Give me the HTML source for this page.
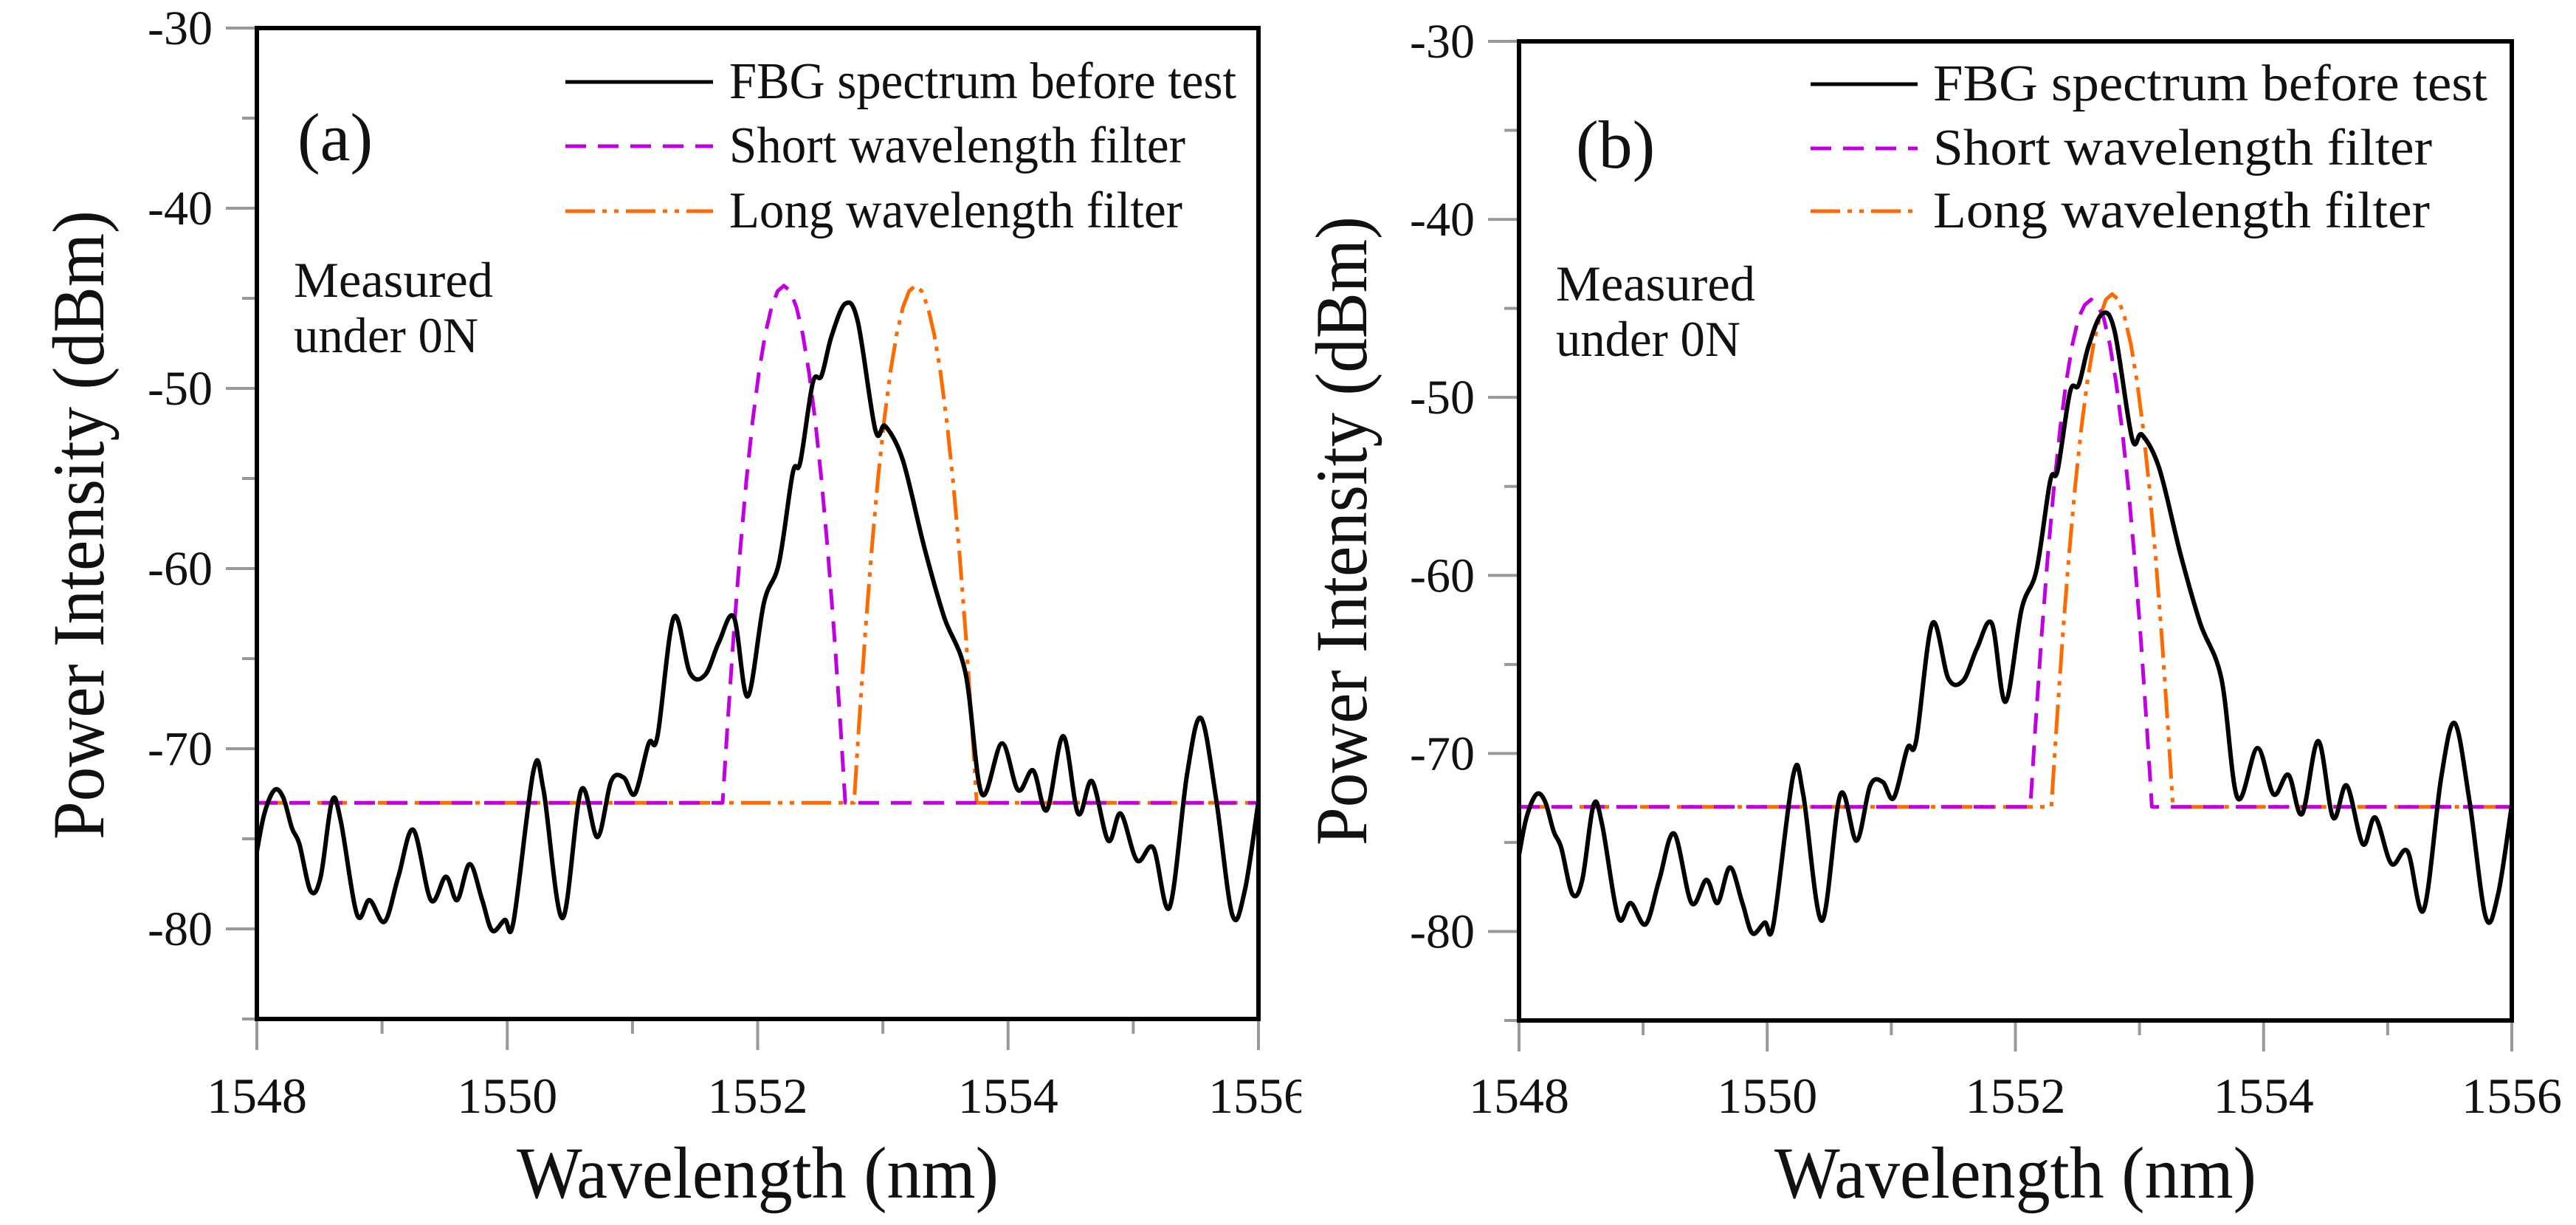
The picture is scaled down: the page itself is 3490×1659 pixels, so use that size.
<!DOCTYPE html>
<html><head><meta charset="utf-8"><style>
html,body{margin:0;padding:0;background:#fff;}
svg{display:block;}
text{font-family:"Liberation Serif","Times New Roman","DejaVu Serif",serif;fill:#111;}
</style></head><body>
<svg id="fig" width="3490" height="1659" viewBox="0 0 3490 1659" xmlns="http://www.w3.org/2000/svg" font-family="Liberation Serif, serif">
<rect x="0" y="0" width="3490" height="1659" fill="#fff"/>
<g id="pa"></g>
<rect x="1763" y="0" width="1727" height="1659" fill="#fff"/>
<g id="pb"></g>
</svg>
<script>
// FBG spectrum (same in both panels)
const fbgWl = [1548,1548.06,1548.14,1548.21,1548.28,1548.34,1548.43,1548.51,1548.6,1548.67,1548.8,1548.9,1549.02,1549.13,1549.25,1549.39,1549.51,1549.6,1549.7,1549.8,1549.88,1549.98,1550.05,1550.21,1550.29,1550.44,1550.59,1550.72,1550.83,1550.93,1551.02,1551.13,1551.2,1551.33,1551.46,1551.58,1551.69,1551.81,1551.92,1552.05,1552.17,1552.28,1552.34,1552.44,1552.51,1552.59,1552.7,1552.8,1552.94,1553.02,1553.16,1553.33,1553.49,1553.66,1553.79,1553.95,1554.08,1554.2,1554.31,1554.44,1554.56,1554.67,1554.8,1554.9,1555.03,1555.16,1555.29,1555.43,1555.54,1555.66,1555.79,1555.89,1556];
const fbgDb = [-75.7,-73.6,-72.3,-72.7,-74.4,-75.3,-77.9,-77.1,-72.9,-74,-79.2,-78.4,-79.6,-77.1,-74.5,-78.4,-77.1,-78.4,-76.4,-78.4,-80.1,-79.5,-79.6,-71.2,-72.3,-79.4,-72.3,-74.9,-71.8,-71.6,-72.5,-69.7,-69.3,-62.7,-65.8,-65.9,-64.1,-62.7,-67.1,-61.9,-59.7,-54.7,-54.1,-49.7,-49.3,-47.1,-45.3,-46.3,-52.3,-52.1,-54.0,-58.8,-62.7,-65.8,-72.5,-69.7,-72.3,-71.2,-73.4,-69.3,-73.6,-71.8,-75.1,-73.6,-76.2,-75.5,-78.8,-71.4,-68.3,-72.7,-79.2,-77.9,-72.9];
// filter profiles
const filterBaseline = -73;
const shortADb = [-73,-71.9,-68.6,-63.5,-59,-55.1,-51.8,-49.1,-47,-45.5,-44.6,-44.3,-44.6,-45.5,-47,-49.1,-51.8,-55.1,-59,-63.5,-68.6,-71.9,-73];
const shortAWl = [1551.72,1551.73,1551.76,1551.81,1551.86,1551.91,1551.96,1552.01,1552.06,1552.11,1552.16,1552.21,1552.26,1552.31,1552.36,1552.41,1552.46,1552.51,1552.56,1552.61,1552.66,1552.69,1552.70];
const longADb = [-73,-71.9,-68.6,-63.5,-59,-55.1,-51.8,-49.1,-47,-45.5,-44.6,-44.3,-44.6,-45.5,-47,-49.1,-51.8,-55.1,-59,-63.5,-68.6,-71.9,-73];
const longAWl = [1552.77,1552.78,1552.81,1552.86,1552.91,1552.96,1553.01,1553.06,1553.11,1553.16,1553.21,1553.26,1553.31,1553.36,1553.41,1553.46,1553.51,1553.56,1553.61,1553.66,1553.71,1553.74,1553.75];
const shortBDb = [-73,-71.9,-68.6,-63.5,-59,-55.1,-51.8,-49.1,-47,-45.5,-44.8,-44.5,-44.8,-45.5,-47,-49.1,-51.8,-55.1,-59,-63.5,-68.6,-71.9,-73];
const shortBWl = [1552.12,1552.13,1552.16,1552.21,1552.26,1552.31,1552.36,1552.41,1552.46,1552.51,1552.56,1552.61,1552.66,1552.71,1552.76,1552.81,1552.86,1552.91,1552.96,1553.01,1553.06,1553.09,1553.10];
const longBDb = [-73,-71.9,-68.6,-63.5,-59,-55.1,-51.8,-49.1,-47,-45.5,-44.5,-44.2,-44.5,-45.5,-47,-49.1,-51.8,-55.1,-59,-63.5,-68.6,-71.9,-73];
const longBWl = [1552.29,1552.30,1552.33,1552.38,1552.43,1552.48,1552.53,1552.58,1552.63,1552.68,1552.73,1552.78,1552.83,1552.88,1552.93,1552.98,1553.03,1553.08,1553.13,1553.18,1553.23,1553.26,1553.27];
const xTicks = [1548,1550,1552,1554,1556];
const yTicks = [-30,-40,-50,-60,-70,-80];
const legendLabels = ["FBG spectrum before test","Short wavelength filter","Long wavelength filter"];

const NS="http://www.w3.org/2000/svg";
const FONT='"Liberation Serif", "Times New Roman", serif';
function mk(parent,tag,attrs){const e=document.createElementNS(NS,tag);for(const k in attrs)e.setAttribute(k,attrs[k]);if(tag==='text')e.setAttribute('font-family',FONT);parent.appendChild(e);return e;}
function smoothPath(p){
  let d='M'+p[0][0].toFixed(1)+','+p[0][1].toFixed(1);
  for(let i=0;i<p.length-1;i++){
    const p0=p[i-1]||p[i],p1=p[i],p2=p[i+1],p3=p[i+2]||p2;
    const c1x=p1[0]+(p2[0]-p0[0])/6,c1y=p1[1]+(p2[1]-p0[1])/6;
    const c2x=p2[0]-(p3[0]-p1[0])/6,c2y=p2[1]-(p3[1]-p1[1])/6;
    d+=` C${c1x.toFixed(1)},${c1y.toFixed(1)} ${c2x.toFixed(1)},${c2y.toFixed(1)} ${p2[0].toFixed(1)},${p2[1].toFixed(1)}`;
  }
  return d;
}

function drawPanel(g,P,swl,sdb,lwl,ldb,tag){
  const sx=v=>P.L+(v-1548)/8*(P.R-P.L);
  const sy=v=>P.T+(-30-v)/55*(P.B-P.T);
  for(let v=-30;v>=-85;v-=5){
    const major=v%10===0;
    const t=mk(g,'line',{x1:P.L-(major?42:20),x2:P.L,y1:sy(v),y2:sy(v),stroke:'#999','stroke-width':4});
    
    
  }
  yTicks.forEach(v=>{
    const t=mk(g,'text',{x:P.L-60,y:sy(v)+22,'text-anchor':'end','font-size':66});
    t.textContent=String(v);
    
    
  });
  for(let v=1548;v<=1556;v+=1){
    const major=v%2===0;
    const t=mk(g,'line',{x1:sx(v),x2:sx(v),y1:P.B,y2:P.B+(major?42:20),stroke:'#999','stroke-width':4});
    
    
  }
  xTicks.forEach(v=>{
    const t=mk(g,'text',{x:sx(v),y:1507,'text-anchor':'middle','font-size':68});
    t.textContent=String(v);
    
    
  });
  const pts=(wl,db)=>wl.map((w,i)=>sx(w).toFixed(1)+','+sy(db[i]).toFixed(1)).join(' ');
  const lw=[1548].concat(lwl,[1556]), ld=[filterBaseline].concat(ldb,[filterBaseline]);
  const l=mk(g,'polyline',{points:pts(lw,ld),fill:'none',stroke:'#ff6a00','stroke-width':5,'stroke-dasharray':'40 10 6 10 6 10','stroke-linejoin':'round'});
  
  
  const sw=[1548].concat(swl,[1556]), sd=[filterBaseline].concat(sdb,[filterBaseline]);
  const s=mk(g,'polyline',{points:pts(sw,sd),fill:'none',stroke:'#c000e0','stroke-width':5,'stroke-dasharray':'28 16','stroke-linejoin':'round'});
  
  
  const fp=fbgWl.map((w,i)=>[sx(w),sy(fbgDb[i])]);
  const f=mk(g,'path',{d:smoothPath(fp),fill:'none',stroke:'#000','stroke-width':6,'stroke-linejoin':'round'});
  
  
  const fr=mk(g,'rect',{x:P.L,y:P.T,width:P.R-P.L,height:P.B-P.T,fill:'none',stroke:'#000','stroke-width':6});
  
  
  const pt=mk(g,'text',{x:P.tagX,y:P.tagY,'font-size':92});
  pt.textContent=tag;
  
  
  const m1=mk(g,'text',{x:P.mX,y:P.mY,'font-size':68,textLength:270,lengthAdjust:'spacingAndGlyphs'});
  m1.textContent='Measured';
  
  
  const m2=mk(g,'text',{x:P.mX,y:P.mY+75,'font-size':68,textLength:250,lengthAdjust:'spacingAndGlyphs'});
  m2.textContent='under 0N';
  
  
  const styles=[{stroke:'#000',da:'none'},{stroke:'#c000e0',da:'28 16'},{stroke:'#ff6a00',da:'40 10 6 10 6 10'}];
  for(let i=0;i<3;i++){
    const ly=P.legY[i];
    const ln=mk(g,'line',{x1:P.legX1,x2:P.legX2,y1:ly,y2:ly,stroke:styles[i].stroke,'stroke-width':5,'stroke-dasharray':styles[i].da});
    
    
    const lt=mk(g,'text',{x:P.legTX,y:ly+22,'font-size':70,textLength:P.legW[i],lengthAdjust:'spacingAndGlyphs'});
    lt.textContent=legendLabels[i];
    
    
  }
  const xt=mk(g,'text',{x:(P.L+P.R)/2,y:1622,'text-anchor':'middle','font-size':100,textLength:653,lengthAdjust:'spacingAndGlyphs'});
  xt.textContent='Wavelength (nm)';
  
  
  const yt=mk(g,'text',{x:0,y:0,'text-anchor':'middle','font-size':100,textLength:852,lengthAdjust:'spacingAndGlyphs',transform:`translate(${P.ytX},${P.ytY}) rotate(-90)`});
  yt.textContent='Power Intensity (dBm)';
  
  
}
drawPanel(document.getElementById('pa'),
  {L:348,R:1705,T:38,B:1380,tagX:403,tagY:217,mX:398,mY:402,legX1:766,legX2:966,legTX:988,legY:[111,198,286],legW:[687,618,614],ytX:140,ytY:711},
  shortAWl,shortADb,longAWl,longADb,'(a)');
drawPanel(document.getElementById('pb'),
  {L:2058,R:3403,T:56,B:1382,tagX:2135,tagY:227,mX:2108,mY:407,legX1:2453,legX2:2598,legTX:2619,legY:[114,201,286],legW:[751,676,673],ytX:1851,ytY:719},
  shortBWl,shortBDb,longBWl,longBDb,'(b)');
</script>
</body></html>
